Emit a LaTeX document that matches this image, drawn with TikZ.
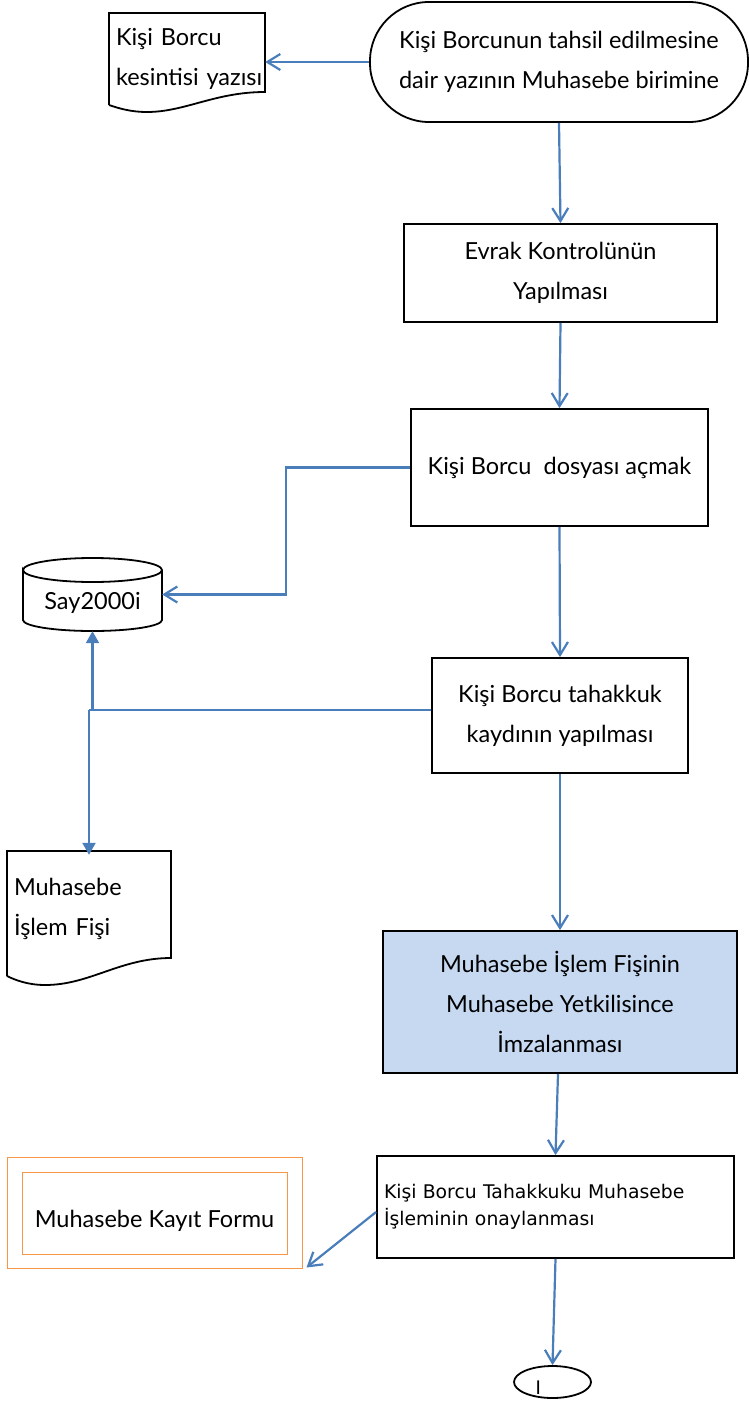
\documentclass[tikz,border=0pt]{standalone}
\usepackage{fontspec}
\setmainfont{Lato}
\newfontfamily\tah{DejaVu Sans}
\usetikzlibrary{arrows.meta,shapes.geometric}
\definecolor{connblue}{HTML}{4A7EBB}
\definecolor{fillblue}{HTML}{C6D9F1}
\definecolor{formorange}{HTML}{F79646}
\begin{document}
\begin{tikzpicture}[x=1pt,y=-1pt,
  mainfont/.style={font=\fontsize{23.5}{40}\selectfont},
  box/.style={draw=black,line width=1.8pt,inner sep=0pt,align=center,mainfont},
  plain/.style={inner sep=0pt,mainfont},
  outline/.style={draw=black,line width=1.8pt},
  arr/.style={draw=connblue,line width=2.2pt,-{Straight Barb[length=13pt,width=16pt,line width=2.2pt]}},
  tri/.style={draw=connblue,line width=2.2pt,-{Triangle[length=12pt,width=13pt]},connblue},
  link/.style={draw=connblue,line width=2.8pt}]
\useasboundingbox (0,0) rectangle (749,1402);

% start terminal
\node[box,rounded corners=59pt,minimum width=378,minimum height=120] (term) at (559,62)
  {Kişi Borcunun tahsil edilmesine\\dair yazının Muhasebe birimine};

% document 1
\draw[outline] (109,105) -- (109,13) -- (265,13) -- (265,92)
  .. controls (215,92) and (185,112) .. (147,112)
  .. controls (130,112) and (118,108) .. (109,105);
\node[plain,text width=142,inner xsep=7,minimum height=92,align=left] (doc1) at (187,59)
  {\mbox{Kişi Borcu}\\\mbox{kesintisi yazısı}};

% process boxes
\node[box,minimum width=313,minimum height=98] (evrak) at (560.5,273)
  {Evrak Kontrolünün\\Yapılması};
\node[box,minimum width=297,minimum height=117] (dosya) at (559.5,467.5)
  {Kişi Borcu\ \ dosyası açmak};
\node[box,minimum width=256,minimum height=115] (tahakkuk) at (560,715.5)
  {Kişi Borcu tahakkuk\\kaydının yapılması};
\node[box,fill=fillblue,minimum width=354,minimum height=142] (imza) at (560,1002)
  {Muhasebe İşlem Fişinin\\Muhasebe Yetkilisince\\İmzalanması};
\node[box,minimum width=357,minimum height=102,text width=343,inner xsep=7,align=left,
  font=\tah\fontsize{18.8}{27}\selectfont] (onay) at (555.5,1207)
  {Kişi Borcu Tahakkuku Muhasebe\\İşleminin onaylanması};

% database cylinder
\draw[outline] (23,570) arc[start angle=180,end angle=360,x radius=69.5,y radius=12]
  arc[start angle=0,end angle=180,x radius=69.5,y radius=12] -- (23,620)
  arc[start angle=180,end angle=0,x radius=69.5,y radius=11] -- (162,570);
\node[plain,minimum width=139,minimum height=73] (say) at (92.5,594.5)
  {\smash{\raisebox{-15pt}{Say2000i}}};

% document 2
\draw[outline] (7,976) -- (7,851) -- (171,851) -- (171,958)
  .. controls (120,958) and (90,985) .. (45,985)
  .. controls (28,985) and (15,980) .. (7,976);
\node[plain,text width=150,inner xsep=7,minimum height=107,align=left] (doc2) at (89,908.5)
  {Muhasebe\\İşlem Fişi};

% orange form
\node[draw=formorange,line width=1pt,minimum width=295,minimum height=111,inner sep=0pt] (formout) at (154.5,1212.5) {};
\node[draw=formorange,line width=1pt,minimum width=265,minimum height=82,inner sep=0pt,mainfont] (form) at (154.5,1213)
  {\smash{\raisebox{-14.5pt}{Muhasebe Kayıt Formu}}};

% connector ellipse
\node[draw=black,line width=1.8pt,ellipse,minimum width=77,minimum height=32,inner sep=0pt,
  font=\fontsize{19}{20}\selectfont] (endc) at (552.5,1382)
  {\makebox[0pt][l]{\hspace*{-17pt}\smash{\raisebox{-12pt}{I}}}};

% connectors
\draw[arr] (term.west) -- (term.west -| doc1.east);
\draw[arr] (term.south) -- (evrak.north);
\draw[arr] (evrak.south) -- (dosya.north);
\draw[arr] (dosya.west) -- ++(-124,0) |- (say.east);
\draw[arr] (dosya.south) -- (tahakkuk.north);
\coordinate (j) at (89,710);
\draw[link] (tahakkuk.west |- j) -- (j);
\draw[tri] (j -| say.south) -- (say.south);
\draw[tri] (j) -- (doc2.north);
\draw[arr] (tahakkuk.south) -- (imza.north);
\draw[arr] ([xshift=-2pt]imza.south) -- (onay.north);
\draw[arr] ([yshift=-5pt]onay.west) -- ([xshift=4pt,yshift=1pt]formout.south east);
\draw[arr] (onay.south) -- (endc.north);
\end{tikzpicture}
\end{document}
